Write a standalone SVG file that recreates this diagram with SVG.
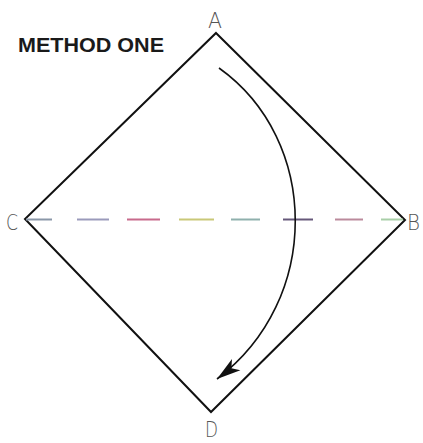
<svg xmlns="http://www.w3.org/2000/svg" width="423" height="443" viewBox="0 0 423 443">
<style>
.title{font-family:"Liberation Sans",Arial,sans-serif;font-weight:bold;font-size:20px;fill:#1a1a1a}
.lbl{font-family:"DejaVu Sans","Liberation Sans",sans-serif;font-size:21px;font-weight:200;fill:#555}
.edge{fill:none;stroke:#111;stroke-width:2;stroke-linejoin:miter}
.dash{stroke-width:2;stroke-linecap:butt}
.arc{fill:none;stroke:#111;stroke-width:1.6}
</style>
<defs>
<marker id="ah" markerUnits="userSpaceOnUse" viewBox="-26 -9 28 18" markerWidth="28" markerHeight="18" refX="0" refY="0" orient="auto">
<path d="M0,0 L-24,-7 L-18,0 L-24,7 Z" fill="#111"/>
</marker>
</defs>
<rect width="423" height="443" fill="#fff"/>
<text class="title" x="18" y="52" textLength="146" lengthAdjust="spacingAndGlyphs">METHOD ONE</text>
<g id="square">
<path class="edge" d="M216,33 L405,220 L211,412 L25,219 Z"/>
</g>
<g id="fold-line">
<line class="dash" x1="26" y1="219.5" x2="52" y2="219.5" stroke="#8a97a8"/>
<line class="dash" x1="77" y1="219.5" x2="109" y2="219.5" stroke="#9a9abb"/>
<line class="dash" x1="127" y1="219.5" x2="160" y2="219.5" stroke="#c86a8c"/>
<line class="dash" x1="179" y1="219.5" x2="214" y2="219.5" stroke="#c9c878"/>
<line class="dash" x1="231" y1="219.5" x2="260" y2="219.5" stroke="#8fb0ad"/>
<line class="dash" x1="283" y1="219.5" x2="313" y2="219.5" stroke="#66587a"/>
<line class="dash" x1="335" y1="219.5" x2="363" y2="219.5" stroke="#bb8a9c"/>
<line class="dash" x1="381" y1="219.5" x2="403" y2="219.5" stroke="#a9cfa8"/>
</g>
<g id="connectors">
<path class="arc" d="M219,68 C320,140 322,300 217,379" marker-end="url(#ah)"/>
</g>
<g id="label-A"><text class="lbl" x="208" y="28" textLength="14" lengthAdjust="spacingAndGlyphs">A</text></g>
<g id="label-B"><text class="lbl" x="407" y="230" textLength="13" lengthAdjust="spacingAndGlyphs">B</text></g>
<g id="label-C"><text class="lbl" x="6" y="230" textLength="12" lengthAdjust="spacingAndGlyphs">C</text></g>
<g id="label-D"><text class="lbl" x="205" y="437" textLength="13" lengthAdjust="spacingAndGlyphs">D</text></g>
</svg>
